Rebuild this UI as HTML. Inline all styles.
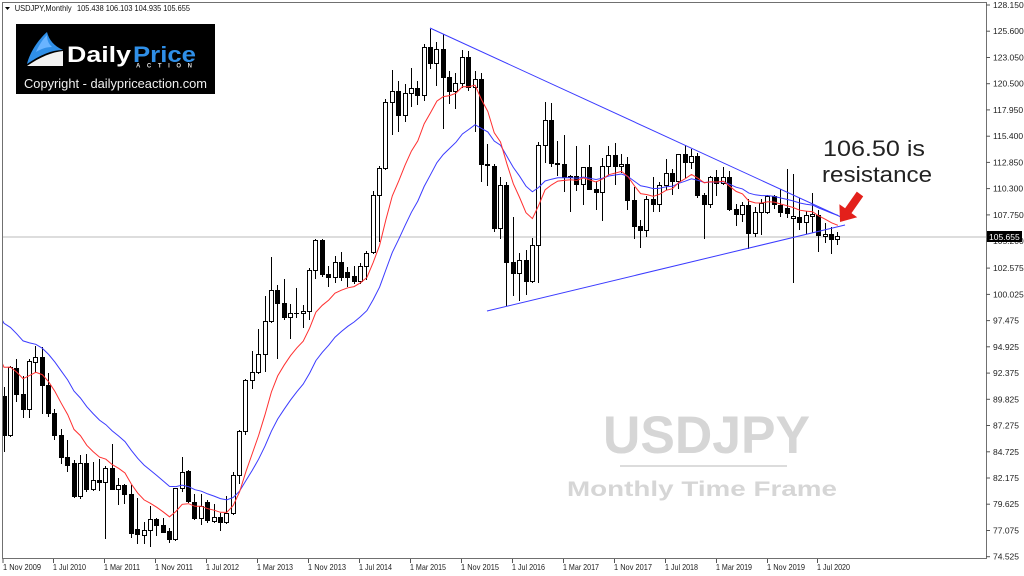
<!DOCTYPE html>
<html><head><meta charset="utf-8">
<style>
html,body{margin:0;padding:0;background:#fff;overflow:hidden;}
svg{display:block;}
</style></head>
<body>
<svg id="c" width="1024" height="576" viewBox="0 0 1024 576" xmlns="http://www.w3.org/2000/svg" font-family="'Liberation Sans', sans-serif">
<rect width="1024" height="576" fill="#fff"/>
<defs><clipPath id="clip"><rect x="3" y="3" width="983" height="555"/></clipPath></defs>

<!-- watermark -->
<text x="603" y="453" font-size="53" font-weight="bold" fill="#d6d6d6" textLength="207" lengthAdjust="spacingAndGlyphs">USDJPY</text>
<line x1="620" y1="466" x2="787" y2="466" stroke="#dcdcdc" stroke-width="2"/>
<text x="567" y="496" font-size="21" font-weight="bold" fill="#d6d6d6" textLength="270" lengthAdjust="spacingAndGlyphs">Monthly Time Frame</text>

<!-- current price line -->
<line x1="3" y1="237" x2="986" y2="237" stroke="#d2d2d2" stroke-width="1.5"/>

<g id="plot" clip-path="url(#clip)"></g>

<!-- trendlines -->
<g stroke="#3b3bff" stroke-width="1" fill="none">
<line x1="430" y1="28" x2="841" y2="217"/>
<line x1="487" y1="311" x2="845" y2="225"/>
</g>

<!-- frame -->
<g stroke="#707070" stroke-width="1" fill="none">
<line x1="2.5" y1="2" x2="2.5" y2="559"/>
<line x1="2" y1="2.5" x2="987" y2="2.5"/>
<line x1="986.5" y1="2" x2="986.5" y2="559"/>
<line x1="2" y1="558.5" x2="987" y2="558.5"/>
</g>

<!-- header -->
<polygon points="5,7 10,7 7.5,10" fill="#000"/>
<text x="14.7" y="11" font-size="8.5" fill="#111" textLength="57" lengthAdjust="spacingAndGlyphs">USDJPY,Monthly</text>
<text x="77" y="11" font-size="8.5" fill="#111" textLength="113" lengthAdjust="spacingAndGlyphs">105.438 106.103 104.935 105.655</text>

<!-- logo -->
<rect x="16" y="24" width="199" height="70" fill="#000"/>
<path d="M27,64 C30,52 38,40 47,32 C49,40 54,46 63,50 C52,50 40,55 27,64 Z" fill="#2f8fe8"/>
<path d="M36,52 C39,45 43,39 47,35 C47,41 49,44 52,47 C46,47 41,49 36,52 Z" fill="#6ab4ff"/>
<path d="M27,66 C40,57 52,52 63,51 L63,66 Z" fill="#f2f2f2"/>
<text x="67" y="62" font-size="22" font-weight="bold" fill="#fff" textLength="64" lengthAdjust="spacingAndGlyphs">Daily</text>
<text x="133" y="62" font-size="22" font-weight="bold" fill="#2f8fe8" textLength="63" lengthAdjust="spacingAndGlyphs">Price</text>
<text x="136" y="67.5" font-size="6" font-weight="bold" fill="#ddd" textLength="56" lengthAdjust="spacing">ACTION</text>
<text x="24" y="88" font-size="13" fill="#f0f0f0" textLength="183" lengthAdjust="spacingAndGlyphs">Copyright - dailypriceaction.com</text>

<!-- right axis -->
<g stroke="#555" stroke-width="1">
<line x1="986" y1="5" x2="990" y2="5"/><line x1="986" y1="31.2" x2="990" y2="31.2"/><line x1="986" y1="57.5" x2="990" y2="57.5"/><line x1="986" y1="83.7" x2="990" y2="83.7"/><line x1="986" y1="109.9" x2="990" y2="109.9"/><line x1="986" y1="136.2" x2="990" y2="136.2"/><line x1="986" y1="162.4" x2="990" y2="162.4"/><line x1="986" y1="188.6" x2="990" y2="188.6"/><line x1="986" y1="214.9" x2="990" y2="214.9"/><line x1="986" y1="241.1" x2="990" y2="241.1"/><line x1="986" y1="268.1" x2="990" y2="268.1"/><line x1="986" y1="294.4" x2="990" y2="294.4"/><line x1="986" y1="320.6" x2="990" y2="320.6"/><line x1="986" y1="346.8" x2="990" y2="346.8"/><line x1="986" y1="373.1" x2="990" y2="373.1"/><line x1="986" y1="399.3" x2="990" y2="399.3"/><line x1="986" y1="425.5" x2="990" y2="425.5"/><line x1="986" y1="451.8" x2="990" y2="451.8"/><line x1="986" y1="478" x2="990" y2="478"/><line x1="986" y1="504.2" x2="990" y2="504.2"/><line x1="986" y1="530.5" x2="990" y2="530.5"/><line x1="986" y1="556.7" x2="990" y2="556.7"/>
</g>
<g font-size="8.5" fill="#222">
<text x="993" y="8">128.150</text>
<text x="993" y="34.2">125.600</text>
<text x="993" y="60.5">123.050</text>
<text x="993" y="86.7">120.500</text>
<text x="993" y="112.9">117.950</text>
<text x="993" y="139.2">115.400</text>
<text x="993" y="165.4">112.850</text>
<text x="993" y="191.6">110.300</text>
<text x="993" y="217.9">107.750</text>
<text x="993" y="244.1">105.200</text>
<text x="993" y="271.1">102.575</text>
<text x="993" y="297.4">100.025</text>
<text x="993" y="323.6">97.475</text>
<text x="993" y="349.8">94.925</text>
<text x="993" y="376.1">92.375</text>
<text x="993" y="402.3">89.825</text>
<text x="993" y="428.5">87.275</text>
<text x="993" y="454.8">84.725</text>
<text x="993" y="481">82.175</text>
<text x="993" y="507.2">79.625</text>
<text x="993" y="533.5">77.075</text>
<text x="993" y="559.7">74.525</text>
</g>
<rect x="987" y="231" width="35" height="11" fill="#000"/>
<text x="989" y="240" font-size="8.5" fill="#fff">105.655</text>

<!-- bottom axis -->
<g stroke="#555" stroke-width="1">
<line x1="3" y1="559" x2="3" y2="563"/><line x1="53.5" y1="559" x2="53.5" y2="563"/><line x1="104.5" y1="559" x2="104.5" y2="563"/><line x1="155.5" y1="559" x2="155.5" y2="563"/><line x1="206.5" y1="559" x2="206.5" y2="563"/><line x1="257.5" y1="559" x2="257.5" y2="563"/><line x1="308.5" y1="559" x2="308.5" y2="563"/><line x1="359.5" y1="559" x2="359.5" y2="563"/><line x1="410.5" y1="559" x2="410.5" y2="563"/><line x1="461.5" y1="559" x2="461.5" y2="563"/><line x1="512.5" y1="559" x2="512.5" y2="563"/><line x1="563.5" y1="559" x2="563.5" y2="563"/><line x1="614.5" y1="559" x2="614.5" y2="563"/><line x1="665.5" y1="559" x2="665.5" y2="563"/><line x1="716.5" y1="559" x2="716.5" y2="563"/><line x1="767.5" y1="559" x2="767.5" y2="563"/><line x1="817.5" y1="559" x2="817.5" y2="563"/>
</g>
<g font-size="8.5" fill="#222" lengthAdjust="spacingAndGlyphs">
<text x="3" y="570" textLength="38" lengthAdjust="spacingAndGlyphs">1 Nov 2009</text>
<text x="53" y="570" textLength="33" lengthAdjust="spacingAndGlyphs">1 Jul 2010</text>
<text x="104" y="570" textLength="36" lengthAdjust="spacingAndGlyphs">1 Mar 2011</text>
<text x="155" y="570" textLength="38" lengthAdjust="spacingAndGlyphs">1 Nov 2011</text>
<text x="206" y="570" textLength="33" lengthAdjust="spacingAndGlyphs">1 Jul 2012</text>
<text x="257" y="570" textLength="36" lengthAdjust="spacingAndGlyphs">1 Mar 2013</text>
<text x="308" y="570" textLength="38" lengthAdjust="spacingAndGlyphs">1 Nov 2013</text>
<text x="359" y="570" textLength="33" lengthAdjust="spacingAndGlyphs">1 Jul 2014</text>
<text x="410" y="570" textLength="36" lengthAdjust="spacingAndGlyphs">1 Mar 2015</text>
<text x="461" y="570" textLength="38" lengthAdjust="spacingAndGlyphs">1 Nov 2015</text>
<text x="512" y="570" textLength="33" lengthAdjust="spacingAndGlyphs">1 Jul 2016</text>
<text x="563" y="570" textLength="36" lengthAdjust="spacingAndGlyphs">1 Mar 2017</text>
<text x="614" y="570" textLength="38" lengthAdjust="spacingAndGlyphs">1 Nov 2017</text>
<text x="665" y="570" textLength="33" lengthAdjust="spacingAndGlyphs">1 Jul 2018</text>
<text x="716" y="570" textLength="36" lengthAdjust="spacingAndGlyphs">1 Mar 2019</text>
<text x="767" y="570" textLength="38" lengthAdjust="spacingAndGlyphs">1 Nov 2019</text>
<text x="817" y="570" textLength="33" lengthAdjust="spacingAndGlyphs">1 Jul 2020</text>
</g>

<!-- annotation -->
<text x="823" y="156" font-size="22.5" fill="#222" textLength="102" lengthAdjust="spacingAndGlyphs">106.50 is</text>
<text x="822" y="182" font-size="22.5" fill="#222" textLength="110" lengthAdjust="spacingAndGlyphs">resistance</text>
<polygon points="840,222 857.2,217.2 851.5,213.1 863.2,196.4 856.8,191.6 845.1,208.3 839.4,204.2" fill="#e3201b"/>
</svg>

<script>
(function(){
var D=[
[90.1,91.0,84.8,86.4],[86.4,93.1,86.3,93.0],[92.9,93.7,89.7,90.3],[90.3,92.1,88.1,88.9],[88.9,93.7,88.1,93.5],
[93.45,94.98,92.5,93.9],[93.9,94.9,88.5,91.2],[91.2,92.4,88.2,88.45],[88.45,88.9,86.0,86.35],[86.35,86.9,83.6,84.25],
[84.2,85.9,82.9,83.4],[83.6,83.9,80.3,80.4],[80.4,84.4,80.2,83.6],[83.6,84.5,80.9,81.1],[81.1,83.7,81.0,82.0],
[82.0,84.0,81.0,81.8],[81.8,83.3,76.3,83.1],[83.1,85.5,81.3,81.1],[81.1,82.2,79.6,81.5],[81.5,81.6,79.7,80.6],
[80.6,81.5,76.4,76.8],[77.2,80.2,75.9,76.7],[76.6,77.9,75.9,77.1],[77.1,79.5,75.6,78.2],[78.2,78.3,76.6,77.6],
[77.6,78.3,76.9,76.9],[77.0,77.3,76.0,76.25],[76.25,81.2,76.1,81.2],[81.2,84.2,80.9,82.8],[82.9,83.0,79.8,79.9],
[79.8,80.6,78.2,78.3],[78.3,80.6,77.7,79.5],[79.8,80.0,77.9,78.1],[78.0,79.6,77.9,78.4],[78.4,78.8,77.1,77.9],
[77.9,80.4,77.8,78.8],[78.8,82.8,78.7,82.5],[82.5,86.8,81.7,86.7],[86.7,91.8,86.5,91.7],[91.7,94.5,90.9,92.5],
[92.5,96.7,92.4,94.2],[94.2,99.9,92.6,97.4],[97.4,103.7,97.3,100.45],[100.45,100.9,93.8,99.15],[99.15,101.5,97.6,97.85],
[97.85,99.1,95.8,98.2],[98.2,100.6,97.8,98.25],[98.25,99.0,96.9,98.4],[98.4,102.6,97.6,102.4],[102.4,105.4,101.6,105.3],
[105.3,105.4,101.8,102.0],[102.0,102.8,100.8,101.7],[101.7,103.8,101.2,103.2],[103.2,104.1,101.4,101.7],[102.2,102.7,100.8,101.75],
[101.8,102.8,101.1,101.3],[101.3,103.1,101.1,102.8],[102.8,104.2,101.5,104.0],[104.1,110.1,104.0,109.7],[109.7,112.5,105.2,112.3],
[112.3,119.0,112.2,118.7],[118.7,121.8,115.6,119.8],[119.8,120.8,115.9,117.5],[117.5,120.5,116.9,119.6],[119.6,122.0,118.3,120.1],
[120.1,120.8,118.5,119.4],[119.4,124.4,118.9,124.1],[124.1,125.86,122.0,122.5],[122.5,124.6,120.4,123.9],[123.9,125.3,116.2,121.2],
[121.2,121.7,118.6,119.8],[119.8,121.5,118.1,120.6],[120.6,123.8,120.2,123.1],[123.1,123.7,119.9,120.2],[120.2,121.7,115.9,121.0],
[121.0,121.5,111.0,112.7],[112.7,114.6,110.7,112.6],[112.5,112.7,106.2,106.5],[106.5,111.4,105.5,110.7],[110.7,110.9,99.0,103.2],
[103.2,107.5,100.0,102.06],[102.06,104.0,99.5,103.4],[103.4,104.3,100.1,101.3],[101.3,105.5,101.2,104.8],[104.8,114.8,101.2,114.5],
[114.5,118.7,112.9,117.0],[117.0,118.6,112.5,112.8],[112.8,114.95,111.6,112.7],[112.7,115.5,110.1,111.4],[111.4,111.6,108.1,111.5],
[111.5,114.4,110.2,110.8],[110.8,112.4,108.8,112.4],[112.4,114.5,110.6,110.3],[110.3,111.0,108.3,110.0],[110.0,113.3,107.3,112.5],
[112.5,114.4,111.7,113.6],[113.6,114.7,110.8,112.5],[112.5,113.7,111.9,112.7],[112.7,113.4,108.3,109.2],[109.2,110.5,105.5,106.7],
[106.7,107.3,104.6,106.3],[106.3,109.6,105.7,109.3],[109.3,111.4,108.1,108.8],[108.8,110.9,108.1,110.7],[110.7,113.2,110.3,111.8],
[111.8,112.2,109.8,111.0],[111.0,113.7,110.4,113.65],[113.65,114.55,111.4,112.9],[112.9,114.2,112.3,113.5],[113.5,113.8,109.5,109.7],
[109.7,109.9,105.5,108.85],[108.85,111.5,108.5,111.4],[111.4,112.1,109.7,110.85],[110.85,112.4,110.8,111.4],[111.4,112.0,108.2,108.3],
[108.3,108.8,106.8,107.8],[107.8,109.0,107.2,108.7],[108.7,109.3,104.5,106.0],[106.0,108.5,105.7,108.05],[108.0,109.3,105.9,108.9],
[108.0,109.7,107.9,109.6],[109.6,109.7,108.4,108.8],[108.7,110.3,107.6,108.0],[108.4,112.2,107.5,107.9],[107.4,111.7,101.2,107.6],
[107.5,109.4,106.4,107.1],[107.1,108.1,106.0,107.7],[107.6,109.85,106.1,107.8],[107.7,108.2,104.2,105.8],[105.7,107.0,105.1,105.9],
[105.9,106.6,104.0,105.4],[105.438,106.103,104.935,105.655]
];
var W=[116,120.7,118.5,117.8,119.5,121.7,123.2,118.6,115.8,114.8,115.4,111.1,111.7,106.4,103.8,99.7,103.9,105.5,106.2,108.1,108.8,106.1,98.4,95.5,90.6,89.9,97.6,98.9,98.6,95.3,96.4,94.7,93.0,89.8,90.1];
function Y(p){return 556.7-(p-74.525)*10.288;}
function X(i){return 3.5+6.366*i;}
var C=W.concat(D.map(function(d){return d[3];}));
function ema(n){var a=2/(n+1),e=C[0],o=[];for(var i=0;i<C.length;i++){if(i>0)e=e+a*(C[i]-e);o.push(e);}return o.slice(W.length-1);}
var s='<g stroke="#000" stroke-width="1">';
for(var i=0;i<D.length;i++){
  var d=D[i],cx=Math.round(X(i)),o=d[0],h=d[1],l=d[2],c=d[3];
  s+='<line x1="'+(cx+.5)+'" y1="'+Math.round(Y(h))+'" x2="'+(cx+.5)+'" y2="'+(Math.round(Y(l))+1)+'"/>';
  var t=Math.round(Y(Math.max(o,c))),b=Math.round(Y(Math.min(o,c)));
  if(b-t<1){s+='<line x1="'+(cx-2)+'" y1="'+(t+.5)+'" x2="'+(cx+3)+'" y2="'+(t+.5)+'"/>';}
  else{s+='<rect x="'+(cx-1.5)+'" y="'+(t+.5)+'" width="4" height="'+(b-t)+'" fill="'+(c>=o?'#fff':'#000')+'"/>';}
}
s+='</g>';
function pl(arr,col){var p=[];for(var j=0;j<arr.length;j++){p.push((X(j-1)+.5).toFixed(1)+','+Y(arr[j]).toFixed(1));}return '<polyline points="'+p.join(' ')+'" fill="none" stroke="'+col+'" stroke-width="1"/>';}
s+=pl(ema(20),'#3b3bff');
s+=pl(ema(10),'#ff3030');
document.getElementById('plot').innerHTML=s;
})();
</script>
</body></html>
